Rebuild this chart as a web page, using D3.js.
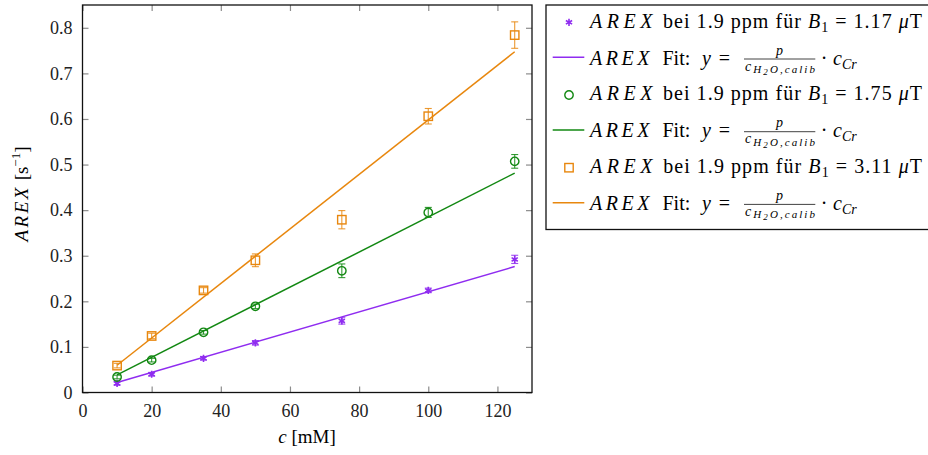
<!DOCTYPE html>
<html>
<head>
<meta charset="utf-8">
<script src="https://cdn.jsdelivr.net/npm/d3@7"></script>
<style>
  body { margin: 0; background: #fff; }
  .tick text { font-size: 18px; fill: #222; }
  .tick line { stroke: #8c8c8c; stroke-width: 1.2; }
</style>
</head>
<body>
<svg width="928" height="455"></svg>
<script>
// concentrations [mM] and measured AREX values [1/s]
const conc = [10, 20, 35, 50, 75, 100, 125]
const arexB117 = [0.020, 0.040, 0.075, 0.109, 0.157, 0.224, 0.292]
const errB117 = [0.004, 0.004, 0.004, 0.005, 0.007, 0.005, 0.009]
const arexB175 = [0.034, 0.071, 0.132, 0.189, 0.267, 0.395, 0.507]
const errB175 = [0.004, 0.004, 0.004, 0.005, 0.015, 0.011, 0.015]
const arexB311 = [0.059, 0.124, 0.224, 0.290, 0.379, 0.606, 0.784]
const errB311 = [0.005, 0.006, 0.006, 0.014, 0.020, 0.017, 0.029]
// fit slopes p / c_H2O,calib and the fitted range
const fitSlope = [0.00221, 0.00385, 0.00598]
const fitRange = [10, 125]
const b1Labels = ["1.17", "1.75", "3.11"]
const xTicks = [0, 20, 40, 60, 80, 100, 120]
const yTicks = [0, 0.1, 0.2, 0.3, 0.4, 0.5, 0.6, 0.7, 0.8]

const colors = ["#8f2cf0", "#128812", "#e8870e"]
const marks = ["star", "circle", "square"]
const serif = "'Liberation Serif', 'Times New Roman', Times, 'DejaVu Serif', serif"

const series = [arexB117, arexB175, arexB311].map((vals, i) => ({
    color: colors[i],
    mark: marks[i],
    slope: fitSlope[i],
    b1: b1Labels[i],
    points: conc.map((c, j) => ({ c: c, v: vals[j], e: [errB117, errB175, errB311][i][j] }))
}))

const svg = d3.select("svg")
    .attr("font-family", serif)

const plotLeft = 82.5, plotRight = 532, plotTop = 5, plotBottom = 392.5

const scaleX = d3.scaleLinear().domain([0, 130]).range([plotLeft, plotRight])
const scaleY = d3.scaleLinear().domain([0, 0.85]).range([plotBottom, plotTop])

// axes with inward ticks on all four sides
svg.append("g")
    .attr("transform", `translate(0,${plotBottom})`)
    .call(d3.axisBottom(scaleX).tickValues(xTicks).tickSize(-6).tickPadding(12))
svg.append("g")
    .attr("transform", `translate(0,${plotTop})`)
    .call(d3.axisTop(scaleX).tickValues(xTicks).tickSize(-6).tickFormat(""))
svg.append("g")
    .attr("transform", `translate(${plotLeft},0)`)
    .call(d3.axisLeft(scaleY).tickValues(yTicks).tickSize(-6).tickPadding(10)
        .tickFormat(d => d === 0 ? "0" : d3.format(".1f")(d)))
svg.append("g")
    .attr("transform", `translate(${plotRight},0)`)
    .call(d3.axisRight(scaleY).tickValues(yTicks).tickSize(-6).tickFormat(""))

svg.selectAll(".domain").remove()
svg.selectAll("g[font-family]").attr("font-family", serif).attr("font-size", null)

// fit lines
series.forEach(s => {
    svg.append("line")
        .attr("x1", scaleX(fitRange[0]))
        .attr("y1", scaleY(s.slope * fitRange[0]))
        .attr("x2", scaleX(fitRange[1]))
        .attr("y2", scaleY(s.slope * fitRange[1]))
        .attr("stroke", s.color)
        .attr("stroke-width", 1.5)
})

const drawMark = function(g, mark, color){
    if (mark === "circle") {
        g.append("circle").attr("r", 4.2)
            .attr("fill", "none").attr("stroke", color).attr("stroke-width", 1.4)
    } else if (mark === "square") {
        g.append("rect").attr("x", -4.2).attr("y", -4.2).attr("width", 8.4).attr("height", 8.4)
            .attr("fill", "none").attr("stroke", color).attr("stroke-width", 1.4)
    } else {
        g.append("path").attr("d", d3.symbol(d3.symbolAsterisk, 36)())
            .attr("fill", "none").attr("stroke", color).attr("stroke-width", 1.6)
    }
}

// error bars and markers
series.forEach(s => {
    const pts = svg.selectAll(null)
        .data(s.points)
        .enter()
        .append("g")
        .attr("transform", d => `translate(${scaleX(d.c)},${scaleY(d.v)})`)

    const eb = pts.append("g")
        .attr("stroke", s.color)
        .attr("stroke-opacity", 0.85)
        .attr("stroke-width", 1.1)
    eb.append("line")
        .attr("x1", 0).attr("x2", 0)
        .attr("y1", d => scaleY(d.v + d.e) - scaleY(d.v))
        .attr("y2", d => scaleY(d.v - d.e) - scaleY(d.v))
    eb.append("line")
        .attr("x1", -3.5).attr("x2", 3.5)
        .attr("y1", d => scaleY(d.v + d.e) - scaleY(d.v))
        .attr("y2", d => scaleY(d.v + d.e) - scaleY(d.v))
    eb.append("line")
        .attr("x1", -3.5).attr("x2", 3.5)
        .attr("y1", d => scaleY(d.v - d.e) - scaleY(d.v))
        .attr("y2", d => scaleY(d.v - d.e) - scaleY(d.v))

    pts.each(function(){ drawMark(d3.select(this), s.mark, s.color) })
})

// frame
svg.append("rect")
    .attr("x", plotLeft).attr("y", plotTop)
    .attr("width", plotRight - plotLeft).attr("height", plotBottom - plotTop)
    .attr("fill", "none").attr("stroke", "#111").attr("stroke-width", 1.3)

// axis labels
const xLabel = svg.append("text")
    .attr("x", 307).attr("y", 443)
    .attr("text-anchor", "middle")
    .attr("font-size", 19)
xLabel.append("tspan").attr("font-style", "italic").text("c")
xLabel.append("tspan").text(" [mM]")

const yLabel = svg.append("text")
    .attr("transform", "translate(28,194) rotate(-90)")
    .attr("text-anchor", "middle")
    .attr("font-size", 19)
yLabel.append("tspan").attr("font-style", "italic").attr("letter-spacing", 2.5).text("AREX")
yLabel.append("tspan").text(" [s")
yLabel.append("tspan").attr("font-size", 13).attr("dy", -8).text("−1")
yLabel.append("tspan").attr("dy", 8).text("]")

// legend
const legend = svg.append("g")
legend.append("rect")
    .attr("x", 546).attr("y", 5)
    .attr("width", 400).attr("height", 224.5)
    .attr("fill", "#fff").attr("stroke", "#111").attr("stroke-width", 1.3)

series.forEach((s, i) => {
    const base = i * 72.7

    // marker row
    const mg = legend.append("g").attr("transform", `translate(569,${22.3 + base})`)
    drawMark(mg, s.mark, s.color)
    const t1 = legend.append("text")
        .attr("x", 590).attr("y", 27.5 + base)
        .attr("font-size", 20)
        .attr("textLength", 332).attr("lengthAdjust", "spacing")
    t1.append("tspan").attr("font-style", "italic").attr("letter-spacing", 3.5).text("AREX")
    t1.append("tspan").text(" bei 1.9 ppm für ")
    t1.append("tspan").attr("font-style", "italic").text("B")
    t1.append("tspan").attr("font-size", 14).attr("dy", 4).text("1")
    t1.append("tspan").attr("dy", -4).text(" = " + s.b1 + " ")
    t1.append("tspan").attr("font-style", "italic").text("μ")
    t1.append("tspan").text("T")

    // fit row
    const y0 = 64.5 + base
    legend.append("line")
        .attr("x1", 552.7).attr("x2", 584.3)
        .attr("y1", 57.3 + base).attr("y2", 57.3 + base)
        .attr("stroke", s.color).attr("stroke-width", 1.5)
    legend.append("text").attr("x", 590).attr("y", y0).attr("font-size", 20)
        .attr("font-style", "italic").attr("letter-spacing", 3.5).text("AREX")
    legend.append("text").attr("x", 662.5).attr("y", y0).attr("font-size", 20).text("Fit:")
    legend.append("text").attr("x", 702).attr("y", y0).attr("font-size", 20)
        .attr("font-style", "italic").text("y")
    legend.append("text").attr("x", 724.5).attr("y", y0).attr("font-size", 20)
        .attr("text-anchor", "middle").text("=")
    legend.append("line")
        .attr("x1", 744).attr("x2", 815.3)
        .attr("y1", y0 - 5.5).attr("y2", y0 - 5.5)
        .attr("stroke", "#111").attr("stroke-width", 0.8)
    legend.append("text").attr("x", 779.5).attr("y", y0 - 10).attr("font-size", 14)
        .attr("text-anchor", "middle").attr("font-style", "italic").text("p")
    const den = legend.append("text").attr("x", 745).attr("y", y0 + 6)
        .attr("font-size", 14).attr("font-style", "italic")
        .attr("textLength", 70).attr("lengthAdjust", "spacing")
    den.append("tspan").text("c")
    den.append("tspan").attr("font-size", 11).attr("dy", 2.5).text("H")
    den.append("tspan").attr("font-size", 9).attr("dy", 2).text("2")
    den.append("tspan").attr("font-size", 11).attr("dy", -2).text("O,calib")
    legend.append("text").attr("x", 824).attr("y", y0).attr("font-size", 20)
        .attr("text-anchor", "middle").text("·")
    const cc = legend.append("text").attr("x", 833).attr("y", y0)
        .attr("font-size", 20).attr("font-style", "italic")
    cc.append("tspan").text("c")
    cc.append("tspan").attr("font-size", 14).attr("dy", 4).text("Cr")
})
</script>
</body>
</html>
